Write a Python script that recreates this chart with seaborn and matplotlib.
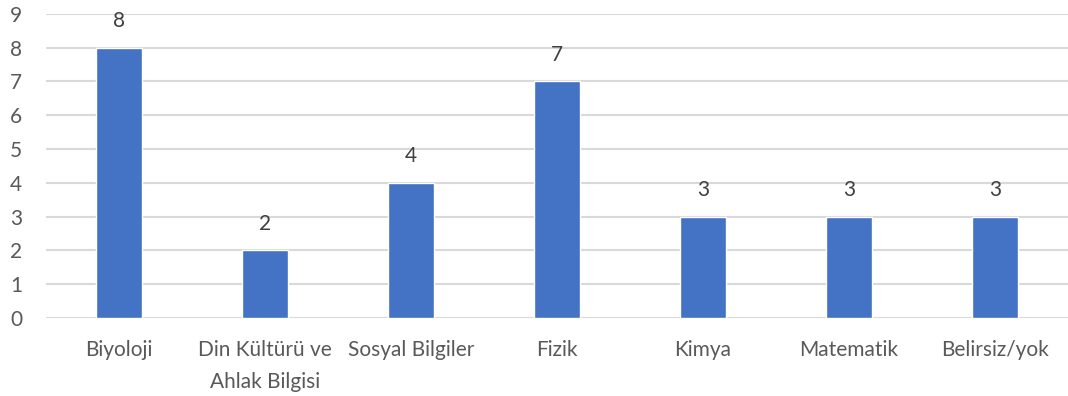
import matplotlib
matplotlib.use("Agg")
import matplotlib.pyplot as plt
import seaborn as sns
import pandas as pd

categories = ["Biyoloji", "Din Kültürü ve\nAhlak Bilgisi", "Sosyal Bilgiler", "Fizik",
              "Kimya", "Matematik", "Belirsiz/yok"]
values = [8, 2, 4, 7, 3, 3, 3]
yticks = list(range(0, 10))

sns.set_theme(style="white")
plt.rcParams['font.family'] = ['Lato', 'DejaVu Sans']

df = pd.DataFrame({"cat": categories, "val": values})

fig = plt.figure(figsize=(10.68, 3.96), dpi=100)
ax = fig.add_axes([0.043, 0.197, 0.957, 0.768])
sns.barplot(data=df, x="cat", y="val", color="#4472C4", width=0.31,
            saturation=1, ax=ax, zorder=3)
ax.set_xlim(-0.5, len(categories) - 0.5)
ax.set_ylim(0, 9)
ax.set_yticks(yticks)
ax.grid(axis="y", color="#d9d9d9", linewidth=1.5, zorder=0)
for s in ax.spines.values():
    s.set_visible(False)
ax.set_xlabel("")
ax.set_ylabel("")
ax.tick_params(axis="x", length=0, pad=16, labelsize=15, labelcolor="#595959")
ax.tick_params(axis="y", length=0, pad=21.5, labelsize=15, labelcolor="#595959")
for lbl in ax.get_xticklabels():
    lbl.set_linespacing(1.75)
for lbl in ax.get_yticklabels():
    lbl.set_horizontalalignment("center")
for c in ax.containers:
    ax.bar_label(c, labels=[str(v) for v in values], padding=12, fontsize=15, color="#404040")
fig.savefig("out.png", dpi=100)
